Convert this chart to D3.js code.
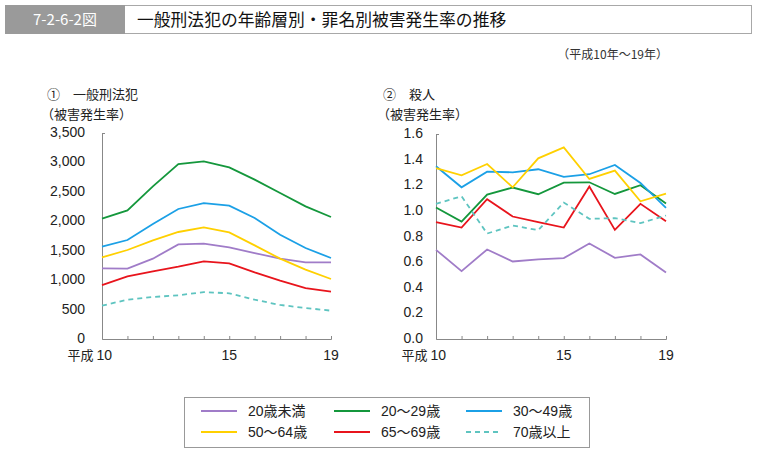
<!DOCTYPE html>
<html><head><meta charset="utf-8">
<script src="https://cdn.jsdelivr.net/npm/d3@7"></script>
<style>
body{margin:0;background:#fff;}
svg{display:block;font-family:"Liberation Sans","Noto Sans CJK JP",sans-serif;}
</style></head>
<body><svg id="c" width="758" height="451"></svg>
<script>
const years = [10,11,12,13,14,15,16,17,18,19];
const xTickLabels = ["平成 10","15","19"];
const seriesNames = ["20歳未満","20～29歳","30～49歳","50～64歳","65～69歳","70歳以上"];
const seriesColors = ["#a07cc8","#14973c","#1ba0e6","#ffd000","#e8141c","#5ec4c0"];

// ① 一般刑法犯
const gen_u20   = [1200,1195,1365,1608,1620,1557,1461,1365,1302,1302];
const gen_20s   = [2044,2186,2594,2973,3018,2916,2707,2480,2254,2073];
const gen_30_49 = [1569,1682,1954,2209,2310,2265,2056,1772,1546,1376];
const gen_50_64 = [1387,1512,1676,1818,1897,1812,1591,1365,1178,1019];
const gen_65_69 = [917,1065,1150,1229,1319,1286,1133,991,866,804];
const gen_70p   = [566,668,714,742,798,776,668,578,527,481];

// ② 殺人
const mur_u20   = [0.696,0.530,0.699,0.605,0.621,0.631,0.745,0.634,0.660,0.519];
const mur_20s   = [1.026,0.917,1.127,1.182,1.130,1.221,1.223,1.132,1.200,1.057];
const mur_30_49 = [1.348,1.184,1.306,1.301,1.325,1.265,1.286,1.358,1.218,1.023];
const mur_50_64 = [1.333,1.278,1.366,1.184,1.410,1.496,1.249,1.314,1.075,1.135];
const mur_65_69 = [0.912,0.870,1.091,0.956,0.912,0.870,1.190,0.852,1.055,0.919];
const mur_70p   = [1.055,1.114,0.823,0.886,0.849,1.065,0.938,0.943,0.904,0.964];

const genTicks = [0,500,1000,1500,2000,2500,3000,3500];
const murTicks = [0,0.2,0.4,0.6,0.8,1.0,1.2,1.4,1.6];

const svg = d3.select("#c");

// Header
svg.append("rect").attr("x",5.5).attr("y",5.5).attr("width",746).attr("height",28)
  .attr("fill","#fff").attr("stroke","#a8a8a8").attr("stroke-width",1);
svg.append("rect").attr("x",5).attr("y",5).attr("width",120).attr("height",29).attr("fill","#9a9a9a");
svg.append("text").attr("x",65).attr("y",25).attr("text-anchor","middle")
  .attr("fill","#fff").attr("font-size",15).attr("font-family","'Noto Sans CJK JP',sans-serif")
  .text("7-2-6-2図");
svg.append("text").attr("x",137).attr("y",26).attr("fill","#111").attr("font-size",16.8)
  .attr("font-family","'Noto Sans CJK JP',sans-serif")
  .text("一般刑法犯の年齢層別・罪名別被害発生率の推移");
svg.append("text").attr("x",668).attr("y",59).attr("text-anchor","end").attr("fill","#333")
  .attr("font-size",12).attr("font-family","'Noto Sans CJK JP',serif")
  .text("（平成10年～19年）");

function panel(cfg){
  const x = d3.scaleLinear().domain([10,19]).range([cfg.x0,cfg.x1]);
  const y = d3.scaleLinear().domain([cfg.ticks[0],cfg.ticks[cfg.ticks.length-1]]).range([339,cfg.yTop]);
  const g = svg.append("g");
  // titles
  g.append("text").attr("x",cfg.tx).attr("y",99).attr("font-size",13).attr("fill","#222")
    .attr("font-family","'Noto Sans CJK JP',sans-serif").text(cfg.title);
  g.append("text").attr("x",cfg.tx-6).attr("y",119).attr("font-size",13).attr("fill","#222")
    .attr("font-family","'Noto Sans CJK JP',sans-serif").text("（被害発生率）");
  // y axis
  const ya = d3.axisLeft(y).tickValues(cfg.ticks).tickSize(0).tickPadding(cfg.pad).tickFormat(cfg.fmt);
  const yg = g.append("g").attr("transform",`translate(${cfg.x0},0)`).call(ya);
  yg.select(".domain").attr("stroke","#888");
  yg.selectAll("text").attr("font-size",14).attr("fill","#222").attr("dy","0.25em");
  g.append("line").attr("x1",cfg.x0).attr("x2",cfg.x0+3).attr("y1",y(cfg.ticks[cfg.ticks.length-1])+0.5)
    .attr("y2",y(cfg.ticks[cfg.ticks.length-1])+0.5).attr("stroke","#888");
  // x axis
  const xa = d3.axisBottom(x).tickValues(years).tickSize(-3).tickPadding(6).tickFormat(()=>"");
  const xg = g.append("g").attr("transform",`translate(0,339)`).call(xa);
  xg.select(".domain").attr("stroke","#888");
  xg.selectAll(".tick line").attr("stroke","#888");
  const lab = [[10,xTickLabels[0]],[15,xTickLabels[1]],[19,xTickLabels[2]]];
  lab.forEach(([v,t])=>{
    const tx = g.append("text").attr("y",360).attr("font-size",14).attr("fill","#222");
    if(v===10){
      tx.attr("x",x(v)+10).attr("text-anchor","end")
        .append("tspan").attr("font-family","'Noto Sans CJK JP',sans-serif").attr("font-size",13).text("平成 ");
      tx.append("tspan").text("10");
    } else {
      tx.attr("x",x(v)).attr("text-anchor","middle").text(t);
    }
  });
  const line = d3.line().x((d,i)=>x(years[i])).y(d=>y(d));
  cfg.data.forEach((arr,i)=>{
    g.append("path").datum(arr).attr("d",line).attr("fill","none")
      .attr("stroke",seriesColors[i]).attr("stroke-width",1.8)
      .attr("stroke-dasharray", i===5 ? "5,4" : null);
  });
}

panel({x0:102,x1:331,yTop:133,ticks:genTicks,fmt:d3.format(","),pad:17,tx:47,title:"①　一般刑法犯",
  data:[gen_u20,gen_20s,gen_30_49,gen_50_64,gen_65_69,gen_70p]});
panel({x0:436,x1:666,yTop:134,ticks:murTicks,fmt:d3.format(".1f"),pad:13,tx:383,title:"②　殺人",
  data:[mur_u20,mur_20s,mur_30_49,mur_50_64,mur_65_69,mur_70p]});

// Legend
svg.append("rect").attr("x",184.5).attr("y",397.5).attr("width",405).attr("height",50)
  .attr("fill","#fff").attr("stroke","#999");
const legCols = [201,334,466];
const legRows = [411,432];
seriesNames.forEach((n,i)=>{
  const cx = legCols[i%3], cy = legRows[Math.floor(i/3)];
  svg.append("line").attr("x1",cx).attr("x2",cx+36).attr("y1",cy).attr("y2",cy)
    .attr("stroke",seriesColors[i]).attr("stroke-width",1.8)
    .attr("stroke-dasharray", i===5 ? "5,4" : null);
  svg.append("text").attr("x",cx+47).attr("y",cy+5).attr("font-size",14).attr("fill","#222")
    .attr("font-family","'Liberation Sans','Noto Sans CJK JP',sans-serif").text(n);
});
</script></body></html>
